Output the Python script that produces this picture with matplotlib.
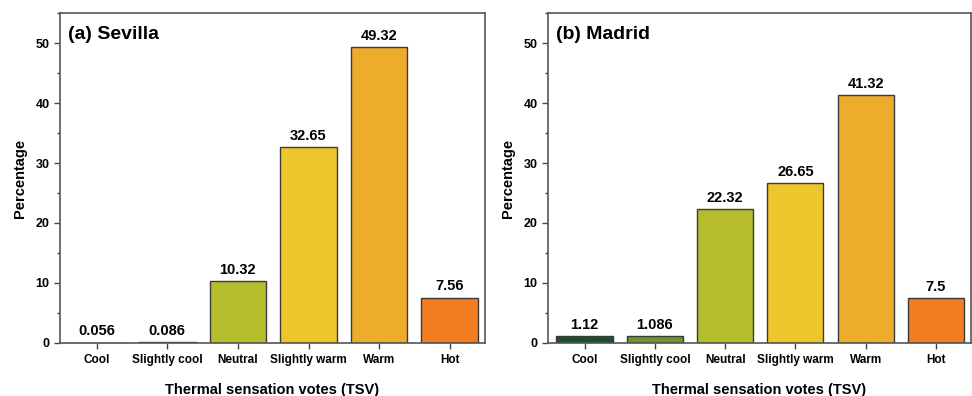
import matplotlib.pyplot as plt
import numpy as np
from matplotlib.ticker import MultipleLocator

plt.rcParams['font.family'] = ['Liberation Sans', 'DejaVu Sans']
plt.rcParams['font.weight'] = 'bold'

categories = ["Cool", "Slightly cool", "Neutral", "Slightly warm", "Warm", "Hot"]
sevilla = [0.056, 0.086, 10.32, 32.65, 49.32, 7.56]
madrid = [1.12, 1.086, 22.32, 26.65, 41.32, 7.5]
sevilla_labels = ["0.056", "0.086", "10.32", "32.65", "49.32", "7.56"]
madrid_labels = ["1.12", "1.086", "22.32", "26.65", "41.32", "7.5"]
bar_colors = ["#17532a", "#6a962a", "#b6bd2c", "#ecc62a", "#eeac2c", "#f37d22"]

fig = plt.figure(figsize=(9.72, 3.96), dpi=100)
ax1 = fig.add_axes([0.0617, 0.134, 0.4373, 0.833])
ax2 = fig.add_axes([0.5638, 0.134, 0.4352, 0.833])

x = np.arange(len(categories))

def draw_panel(ax, values, labels, title):
    ax.bar(x, values, width=0.8, color=bar_colors, edgecolor="#3a3a3a", linewidth=1.0)
    for xi, v, lab in zip(x, values, labels):
        ax.text(xi, v + 0.7, lab, ha="center", va="bottom", fontsize=10.5, fontweight="bold")
    ax.set_xlim(-0.52, 5.5)
    ax.set_ylim(0, 55)
    ax.yaxis.set_major_locator(MultipleLocator(10))
    ax.yaxis.set_minor_locator(MultipleLocator(5))
    ax.set_xticks(x)
    ax.set_xticklabels(categories, fontsize=8.5, fontweight="bold")
    ax.tick_params(axis="y", which="major", labelsize=9, length=4, width=1, color="#444444")
    ax.tick_params(axis="y", which="minor", length=2, width=1, color="#444444")
    ax.tick_params(axis="x", length=4, width=1, color="#444444", pad=4)
    for s in ax.spines.values():
        s.set_color("#555555")
        s.set_linewidth(1.2)
    ax.set_xlabel("Thermal sensation votes (TSV)", fontsize=10.5, fontweight="bold", labelpad=12)
    ax.set_ylabel("Percentage", fontsize=10.5, fontweight="bold", labelpad=6)
    ax.text(0.02, 0.96, title, transform=ax.transAxes, ha="left", va="top",
            fontsize=14, fontweight="bold")

draw_panel(ax1, sevilla, sevilla_labels, "(a) Sevilla")
draw_panel(ax2, madrid, madrid_labels, "(b) Madrid")

fig.savefig("out.png", dpi=100)
